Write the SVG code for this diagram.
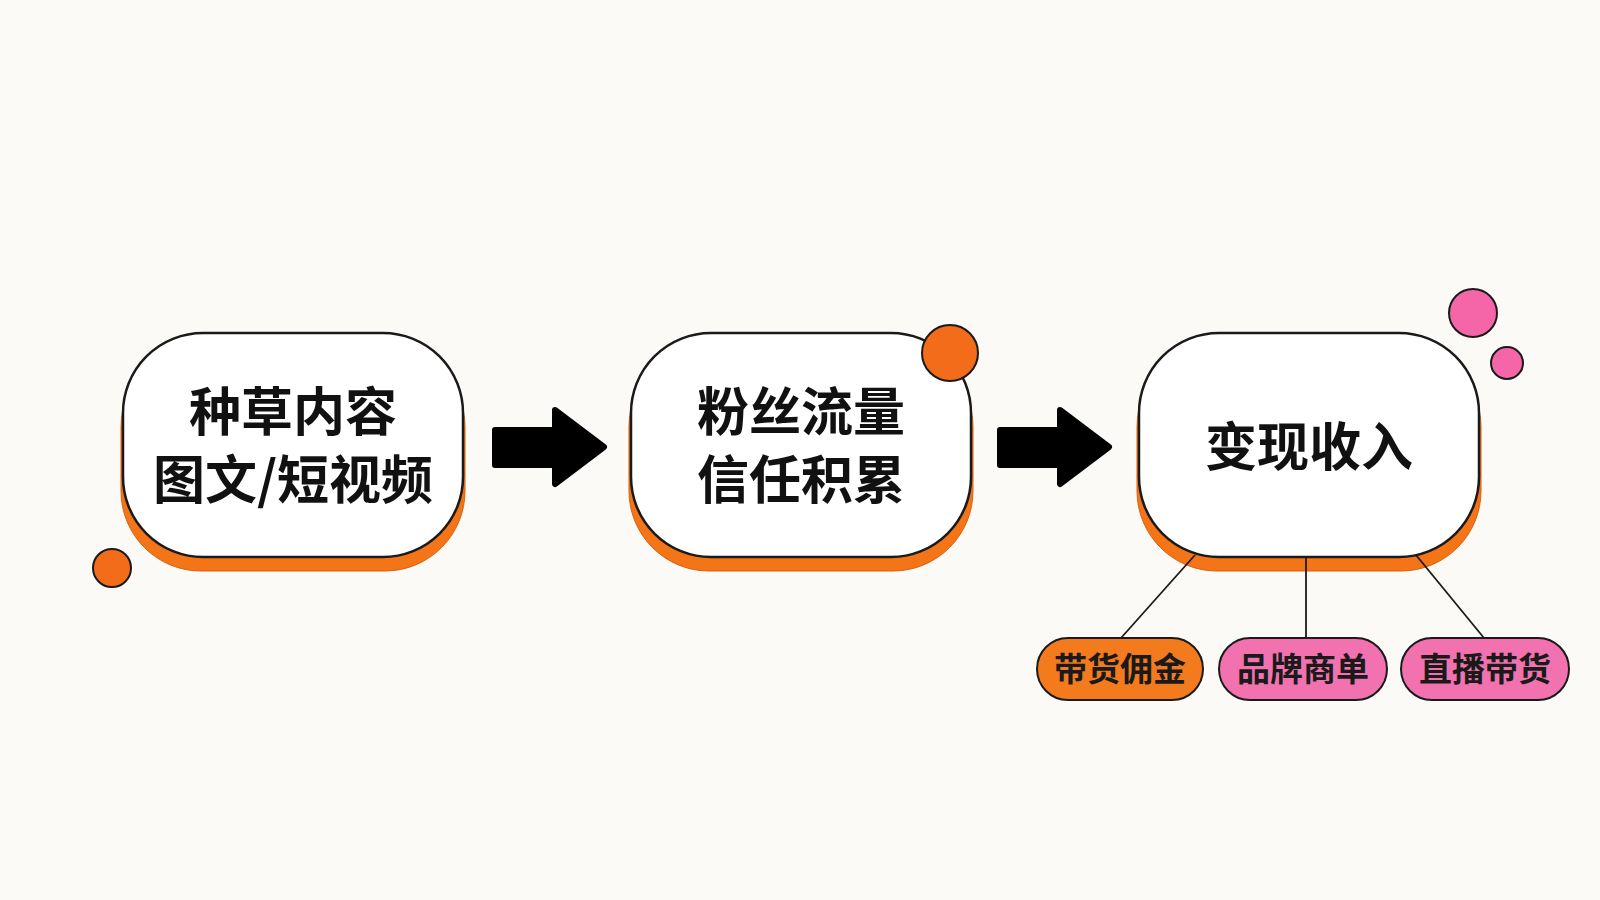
<svg xmlns="http://www.w3.org/2000/svg" width="1600" height="900" viewBox="0 0 1600 900">
  <style>
    .shadow { fill: #F47418; stroke: #D9600E; stroke-width: 1; }
    .box { fill: #FFFFFF; stroke: #1A1A1A; stroke-width: 2.5; }
    .big { font-family: "Noto Sans CJK SC", "Noto Sans", sans-serif; font-weight: 700; font-size: 52px; fill: #111111; text-anchor: middle; }
    .small { font-family: "Noto Sans CJK SC", "Noto Sans", sans-serif; font-weight: 700; font-size: 33px; fill: #1A1A1A; text-anchor: middle; }
    .pill-o { fill: #F47A1E; stroke: #1A1A1A; stroke-width: 2; }
    .pill-p { fill: #F272B0; stroke: #1A1A1A; stroke-width: 2; }
    .dot-o { fill: #F36C1A; stroke: #1A1A1A; stroke-width: 2; }
    .dot-p { fill: #F466A8; stroke: #1A1A1A; stroke-width: 2; }
    .arrow { fill: #000000; stroke: #000000; stroke-width: 6; stroke-linejoin: round; }
    .link { stroke: #1A1A1A; stroke-width: 1.8; fill: none; }
  </style>
  <rect x="0" y="0" width="1600" height="900" fill="#FBFAF7"/>

  <g id="decor">
    <circle class="dot-o" cx="112" cy="568" r="19"/>
  </g>

  <g id="node-content">
    <rect class="shadow" x="121" y="347" width="344" height="224" rx="80" ry="80"/>
    <rect class="box" x="123" y="333" width="340" height="224" rx="80" ry="80"/>
    <text class="big" x="293" y="431">种草内容</text>
    <text class="big" x="293" y="499">图文/短视频</text>
  </g>

  <g id="node-traffic">
    <rect class="shadow" x="629" y="347" width="344" height="224" rx="80" ry="80"/>
    <rect class="box" x="631" y="333" width="340" height="224" rx="80" ry="80"/>
    <text class="big" x="801" y="431">粉丝流量</text>
    <text class="big" x="801" y="499">信任积累</text>
    <circle class="dot-o" cx="950" cy="353" r="28"/>
  </g>

  <g id="node-income">
    <rect class="shadow" x="1137" y="347" width="344" height="224" rx="80" ry="80"/>
    <rect class="box" x="1139" y="333" width="340" height="224" rx="80" ry="80"/>
    <text class="big" x="1309" y="466">变现收入</text>
    <circle class="dot-p" cx="1473" cy="313" r="24"/>
    <circle class="dot-p" cx="1507" cy="363" r="16"/>
  </g>

  <g id="connectors">
    <path class="arrow" d="M495,430 H555 V410 L604,447 L555,484 V465 H495 Z"/>
    <path class="arrow" d="M1000,430 H1060 V410 L1109,447 L1060,484 V465 H1000 Z"/>
    <line class="link" x1="1195" y1="555" x2="1121" y2="638"/>
    <line class="link" x1="1306" y1="557" x2="1306" y2="638"/>
    <line class="link" x1="1416" y1="555" x2="1484" y2="638"/>
  </g>

  <g id="pill-commission">
    <rect class="pill-o" x="1037" y="638" width="166" height="62" rx="31" ry="31"/>
    <text class="small" x="1120" y="681">带货佣金</text>
  </g>
  <g id="pill-brand">
    <rect class="pill-p" x="1219" y="638" width="168" height="62" rx="31" ry="31"/>
    <text class="small" x="1303" y="681">品牌商单</text>
  </g>
  <g id="pill-live">
    <rect class="pill-p" x="1401" y="638" width="168" height="62" rx="31" ry="31"/>
    <text class="small" x="1485" y="681">直播带货</text>
  </g>
</svg>
